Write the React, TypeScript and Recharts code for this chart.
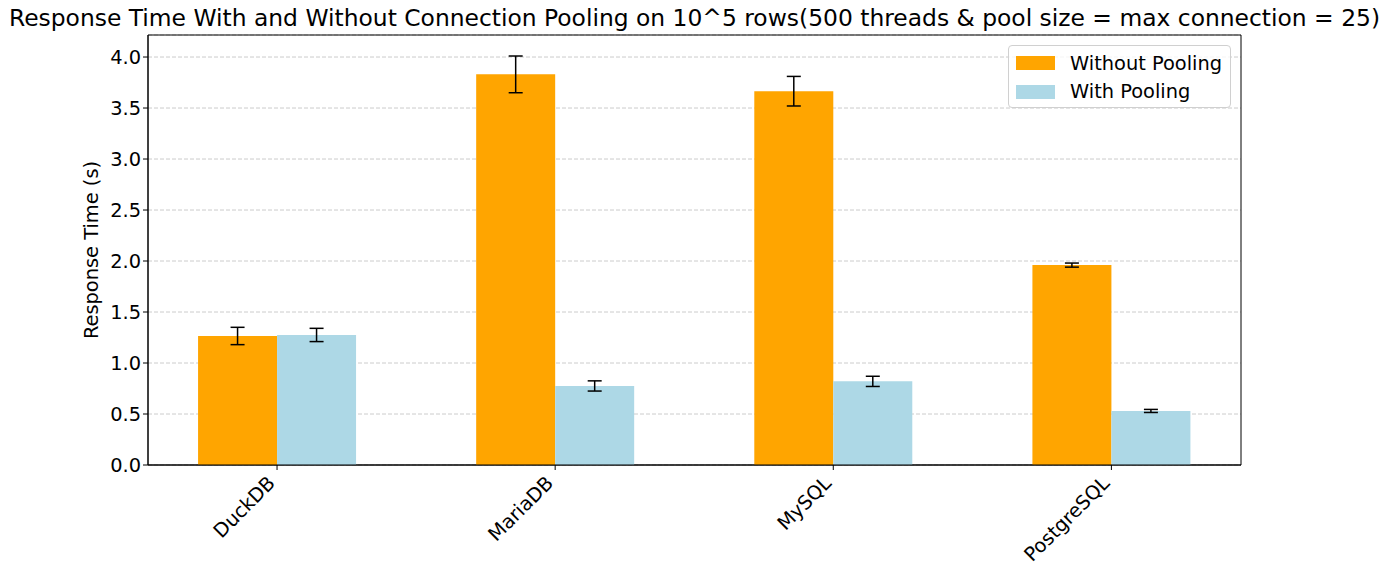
import React from "react";
import { BarChart, Bar, XAxis, YAxis, CartesianGrid, ErrorBar, ReferenceArea } from "recharts";

const databases = ["DuckDB", "MariaDB", "MySQL", "PostgreSQL"];
const withoutPooling = [1.265, 3.83, 3.665, 1.96];
const withoutPoolingErr = [0.085, 0.18, 0.145, 0.02];
const withPooling = [1.275, 0.775, 0.82, 0.53];
const withPoolingErr = [0.065, 0.05, 0.05, 0.015];
const yTicks = [0, 0.5, 1, 1.5, 2, 2.5, 3, 3.5, 4];

const data = databases.map((name, i) => ({
  x: i,
  name,
  without: withoutPooling[i],
  withoutErr: withoutPoolingErr[i],
  with: withPooling[i],
  withErr: withPoolingErr[i],
}));

const FONT = "'DejaVu Sans', sans-serif";
const FS = 19.4;
const X_DOMAIN: [number, number] = [-0.464, 3.466];
const Y_MAX = 4.216;

function RotatedTick(props: any) {
  const { x, y, payload } = props;
  return (
    <g transform={`translate(${x - 5},${y + 8})`}>
      <text transform="rotate(-45)" textAnchor="end" dy={6} fill="#000" fontSize={FS} fontFamily={FONT}>
        {databases[payload.value]}
      </text>
    </g>
  );
}

function LegendBox() {
  const items = [
    { label: "Without Pooling", color: "#FFA500" },
    { label: "With Pooling", color: "#ADD8E6" },
  ];
  return (
    <div
      style={{
        position: "absolute",
        top: 45,
        left: 1008,
        width: 223,
        height: 63,
        border: "1px solid #d0d0d0",
        borderRadius: 4,
        background: "rgba(255,255,255,0.8)",
        boxSizing: "border-box",
        paddingTop: 3,
        fontFamily: FONT,
        fontSize: FS,
      }}
    >
      {items.map((it) => (
        <div key={it.label} style={{ display: "flex", alignItems: "center", height: 28.5, paddingLeft: 7 }}>
          <span style={{ width: 39, height: 14, background: it.color, display: "inline-block", marginRight: 15 }} />
          <span style={{ color: "#000" }}>{it.label}</span>
        </div>
      ))}
    </div>
  );
}

export default function App() {
  return (
    <div style={{ position: "relative", width: 1388, height: 577, background: "#fff" }}>
      <style>{`body{margin:0}`}</style>
      <BarChart
        width={1388}
        height={577}
        data={data}
        margin={{ top: 35, right: 147, bottom: 12, left: 58 }}
        barCategoryGap="21.6%"
        barGap={0}
      >
        <CartesianGrid vertical={false} stroke="#cccccc" strokeDasharray="4 2" />
        <XAxis
          type="number"
          dataKey="x"
          domain={X_DOMAIN}
          ticks={[0, 1, 2, 3]}
          allowDataOverflow
          height={100}
          tick={<RotatedTick />}
          tickLine={{ stroke: "#000" }}
          tickSize={5}
          axisLine={{ stroke: "#000" }}
          interval={0}
        />
        <YAxis
          width={90}
          domain={[0, Y_MAX]}
          ticks={yTicks}
          allowDataOverflow
          tickFormatter={(v: number) => v.toFixed(1)}
          tick={{ fill: "#000", fontSize: FS, fontFamily: FONT }}
          tickLine={{ stroke: "#000" }}
          tickSize={5}
          axisLine={{ stroke: "#000" }}
          label={{
            value: "Response Time (s)",
            angle: -90,
            position: "insideLeft",
            offset: 33,
            style: { textAnchor: "middle", fontSize: FS, fontFamily: FONT, fill: "#000" },
          }}
        />
        <Bar dataKey="without" name="Without Pooling" fill="#FFA500" isAnimationActive={false}>
          <ErrorBar dataKey="withoutErr" width={7} stroke="#000" strokeWidth={1.5} />
        </Bar>
        <Bar dataKey="with" name="With Pooling" fill="#ADD8E6" isAnimationActive={false}>
          <ErrorBar dataKey="withErr" width={7} stroke="#000" strokeWidth={1.5} />
        </Bar>
        <ReferenceArea
          x1={X_DOMAIN[0]}
          x2={X_DOMAIN[1]}
          y1={0}
          y2={Y_MAX}
          fill="none"
          stroke="#000"
          strokeWidth={1}
          ifOverflow="visible"
        />
      </BarChart>
      <div
        style={{
          position: "absolute",
          top: 4,
          left: 0,
          width: 1388,
          display: "flex",
          justifyContent: "center",
          fontFamily: FONT,
          fontSize: 23.4,
          whiteSpace: "nowrap",
        }}
      >
        <span style={{ marginLeft: 1 }}>
          Response Time With and Without Connection Pooling on 10^5 rows(500 threads &amp; pool size = max connection = 25)
        </span>
      </div>
      <LegendBox />
    </div>
  );
}
